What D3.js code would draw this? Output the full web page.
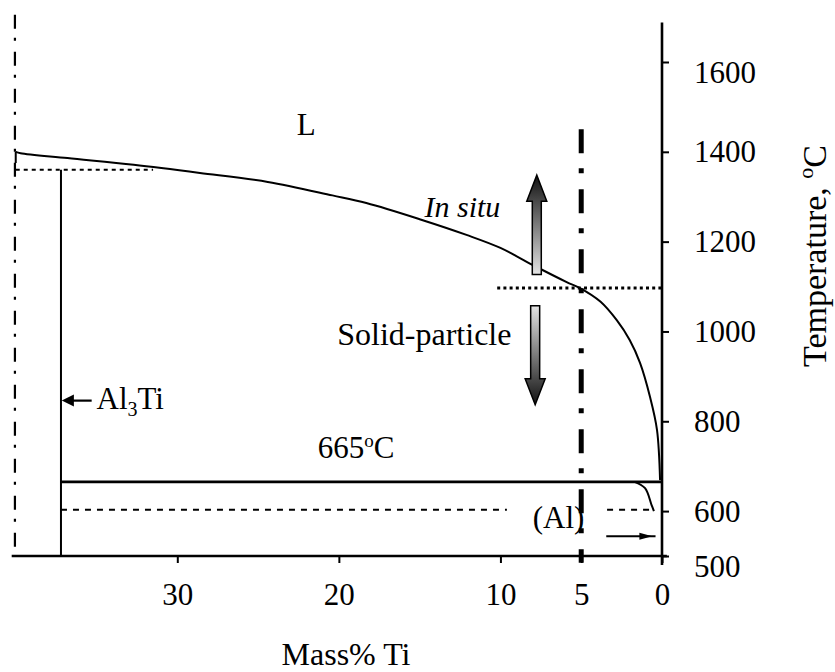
<!DOCTYPE html>
<html>
<head>
<meta charset="utf-8">
<script src="https://d3js.org/d3.v7.min.js"></script>
<style>
  body { margin: 0; background: #fff; }
</style>
</head>
<body>
<script>
// liquidus (mass% Ti, temperature C)
const liquidus = [[40.0,1400],[39.7,1397],[36.8,1386],[32.7,1371],[28.6,1353],[24.4,1333],
  [20.4,1303],[18.3,1286],[15.0,1250],[12.1,1215],[10.0,1186],[8.0,1148],[5.9,1110],
  [5.1,1097],[3.8,1066],[2.8,1025],[2.0,981],[1.36,930],[0.74,854],[0.31,781],[0.12,669]];
// (Al) solvus below the peritectic
const solvus = [[1.7,665],[1.05,651],[0.65,614],[0.5,600]];
const xTicks = [30, 20, 10, 5, 0];
const yTicks = [500, 600, 800, 1000, 1200, 1400, 1600];

const al3ti = 37.2;       // Al3Ti composition
const periT = 665;        // peritectic temperature
const al3tiTop = 1360;    // dotted line under liquidus
const lowT = 603;         // dashed isotherm
const processT = 1097;    // dotted isotherm through 5% Ti
const alloy = 5;          // 5% Ti alloy line

const width = 835, height = 672;
const FONT = '"Liberation Serif"';

const x = d3.scaleLinear().domain([40.2, 0]).range([12.5, 662]);
const y = d3.scaleLinear().domain([500, 1600]).range([556, 62]);

const svg = d3.select('body').append('svg')
    .attr('width', width)
    .attr('height', height);

const defs = svg.append('defs');
const gUp = defs.append('linearGradient').attr('id', 'gradUp')
    .attr('x1', 0).attr('y1', 1).attr('x2', 0).attr('y2', 0);
gUp.append('stop').attr('offset', '0%').attr('stop-color', '#e4e4e4');
gUp.append('stop').attr('offset', '100%').attr('stop-color', '#111');
const gDown = defs.append('linearGradient').attr('id', 'gradDown')
    .attr('x1', 0).attr('y1', 0).attr('x2', 0).attr('y2', 1);
gDown.append('stop').attr('offset', '0%').attr('stop-color', '#e4e4e4');
gDown.append('stop').attr('offset', '100%').attr('stop-color', '#111');

const line = d3.line().x(d => x(d[0])).y(d => y(d[1]));

function seg(x1, t1, x2, t2, w, dash) {
    svg.append('line')
        .attr('x1', x(x1)).attr('y1', y(t1))
        .attr('x2', x(x2)).attr('y2', y(t2))
        .attr('stroke', '#000')
        .attr('stroke-width', w)
        .attr('stroke-dasharray', dash || null);
}

// left dash-dot boundary
seg(40.05, 1705, 40.05, 500, 2.2, '14,9,3,11');
// short start of liquidus
seg(40.0, 1400, 40.0, 1375, 2);

// liquidus
svg.append('path')
    .datum(liquidus)
    .attr('d', line.curve(d3.curveCatmullRom))
    .attr('fill', 'none')
    .attr('stroke', '#000')
    .attr('stroke-width', 2);

svg.append('path')
    .datum(solvus)
    .attr('d', line.curve(d3.curveCatmullRom))
    .attr('fill', 'none')
    .attr('stroke', '#000')
    .attr('stroke-width', 2);

// Al3Ti line and isotherms
seg(40.0, al3tiTop, 31.5, al3tiTop, 2, '4,4');
seg(al3ti, al3tiTop, al3ti, 500, 2);
seg(al3ti, periT, 0, periT, 2.6);
seg(al3ti, lowT, 9.6, lowT, 2.2, '6,6');
seg(3.4, lowT, 0.5, lowT, 2.2, '6,6');
seg(10.2, processT, 0.05, processT, 3, '3,3.2');

// 5% Ti alloy
seg(alloy, 1450, alloy, 485, 5, '24,15,5,16');

// axes
const xAxis = svg.append('g')
    .attr('transform', `translate(0,${y(500)})`)
    .call(d3.axisBottom(x).tickValues(xTicks).tickFormat(d3.format('d')).tickSize(7).tickPadding(20));
xAxis.attr('font-family', null).attr('font-size', null);
xAxis.select('.domain').remove();
xAxis.selectAll('.tick line').attr('stroke-width', 2);
xAxis.selectAll('text').style('font-size', '31px').style('font-family', FONT);

const yAxis = svg.append('g')
    .attr('transform', `translate(${x(0)},0)`)
    .call(d3.axisRight(y).tickValues(yTicks).tickFormat(d3.format('d')).tickSize(7).tickPadding(25));
yAxis.attr('font-family', null).attr('font-size', null);
yAxis.select('.domain').remove();
yAxis.selectAll('.tick line').attr('stroke-width', 2);
yAxis.selectAll('text').style('font-size', '31px').style('font-family', FONT)
    .attr('dy', d => (d === 1600 || d === 500) ? '0.65em' : '0.32em');

seg(40.25, 500, -0.3, 500, 2.6);
seg(0, 1688, 0, 480, 2.6);

// process arrows
function arrow(xv, tFrom, tTip, grad) {
    const xc = x(xv), y0 = y(tFrom), yt = y(tTip);
    const dir = yt < y0 ? -1 : 1;
    const yh = yt - dir * 26;
    svg.append('path')
        .attr('d', `M${xc - 4.5},${y0} L${xc + 4.5},${y0} L${xc + 4.5},${yh} L${xc + 10},${yh} L${xc},${yt} L${xc - 10},${yh} L${xc - 4.5},${yh} Z`)
        .attr('fill', `url(#${grad})`)
        .attr('stroke', '#000')
        .attr('stroke-width', 1.5);
}
arrow(7.75, 1127, 1348, 'gradUp');
arrow(7.85, 1057, 837, 'gradDown');

// small arrow near 0% Ti
seg(3.45, 544, 0.4, 544, 2.2);
svg.append('path')
    .attr('d', `M${x(1.4)},${y(544) - 3.5} L${x(0.6)},${y(544)} L${x(1.4)},${y(544) + 3.5} Z`)
    .attr('fill', '#000');

// Al3Ti pointer
seg(35.3, 846, 36.9, 846, 2.2);
svg.append('path')
    .attr('d', `M${x(36.4)},${y(846) - 6} L${x(37.15)},${y(846)} L${x(36.4)},${y(846) + 6} Z`)
    .attr('fill', '#000');

// labels
function label(xv, tv, txt, opts = {}) {
    return svg.append('text')
        .attr('x', x(xv)).attr('y', y(tv))
        .style('font-family', FONT)
        .style('font-size', (opts.size || 31) + 'px')
        .style('font-style', opts.italic ? 'italic' : null)
        .text(txt);
}
label(22.6, 1437, 'L');
label(14.7, 1255, 'In situ', { italic: true, size: 30 });
label(20.1, 970, 'Solid-particle', { size: 32 });
label(8.0, 562, '(Al)');

const al = label(35.0, 827, 'Al');
al.append('tspan').attr('dy', 7).style('font-size', '20px').text('3');
al.append('tspan').attr('dy', -7).text('Ti');

const eut = label(21.3, 718, '665');
eut.append('tspan').attr('dy', -11).style('font-size', '19px').text('o');
eut.append('tspan').attr('dy', 11).text('C');

svg.append('text')
    .attr('x', 346).attr('y', 665)
    .attr('text-anchor', 'middle')
    .style('font-family', FONT)
    .style('font-size', '32px')
    .text('Mass% Ti');

const tl = svg.append('text')
    .attr('transform', 'translate(826,256) rotate(-90)')
    .attr('text-anchor', 'middle')
    .style('font-family', FONT)
    .style('font-size', '34px')
    .text('Temperature, ');
tl.append('tspan').attr('dy', -13).style('font-size', '22px').text('o');
tl.append('tspan').attr('dy', 13).text('C');
</script>
</body>
</html>
